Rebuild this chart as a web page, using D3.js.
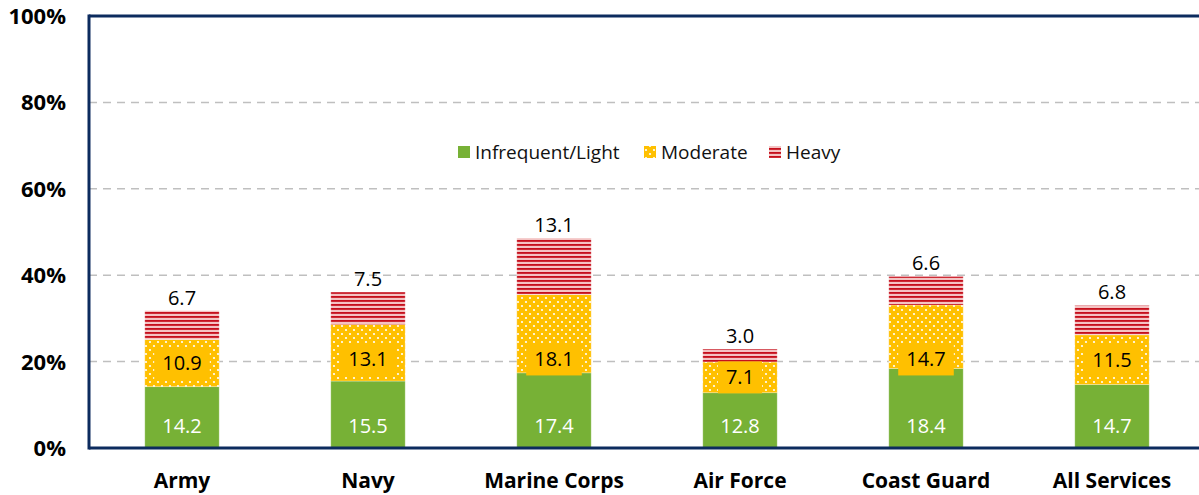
<!DOCTYPE html>
<html>
<head>
<meta charset="utf-8">
<script src="https://cdn.jsdelivr.net/npm/d3@7"></script>
<style>
  body { margin: 0; background: #fff; }
  svg text { font-family: "Open Sans", "Noto Sans", sans-serif; }
  .tick-label { font-weight: bold; font-size: 22px; fill: #000; }
  .cat-label { font-weight: bold; font-size: 21px; fill: #000; }
  .val { font-size: 20px; }
  .leg { font-size: 19px; fill: #111; }
</style>
</head>
<body>
<svg id="chart" width="1199" height="495"></svg>
<script>
// services along the x axis
var services = ["Army", "Navy", "Marine Corps", "Air Force", "Coast Guard", "All Services"];
// percent of members in each drinking level
var light = [14.2, 15.5, 17.4, 12.8, 18.4, 14.7];
var moderate = [10.9, 13.1, 18.1, 7.1, 14.7, 11.5];
var heavy = [6.7, 7.5, 13.1, 3.0, 6.6, 6.8];
var seriesNames = ["Infrequent/Light", "Moderate", "Heavy"];
var yTicks = [0, 20, 40, 60, 80, 100];

var svg = d3.select("#chart");
var pLeft = 89, pTop = 16, pBottom = 448, pRight = 1205;
var navy = "#0c2b5e";

var x = d3.scaleBand().domain(services).range([pLeft, pRight]).paddingInner(0.6).paddingOuter(0.3);
var y = d3.scaleLinear().domain([0, 100]).range([pBottom, pTop]);

// patterns
var defs = svg.append("defs");
var dots = defs.append("pattern").attr("id", "dots")
  .attr("patternUnits", "userSpaceOnUse").attr("width", 8).attr("height", 8);
dots.append("rect").attr("width", 8).attr("height", 8).attr("fill", "#ffc000");
dots.append("circle").attr("cx", 2).attr("cy", 2).attr("r", 1.1).attr("fill", "#fff");
dots.append("circle").attr("cx", 6).attr("cy", 6).attr("r", 1.1).attr("fill", "#fff");

var stripes = defs.append("pattern").attr("id", "stripes")
  .attr("patternUnits", "userSpaceOnUse").attr("width", 8).attr("height", 4);
stripes.append("rect").attr("width", 8).attr("height", 4).attr("fill", "#ee9c9c");
stripes.append("rect").attr("y", 0).attr("width", 8).attr("height", 1.8).attr("fill", "#c50f1c");
stripes.append("rect").attr("y", 2.6).attr("width", 8).attr("height", 0.8).attr("fill", "#fff");

var fills = ["#77b136", "url(#dots)", "url(#stripes)"];

// gridlines
svg.append("g").selectAll("line")
  .data(yTicks.filter(function(d){ return d > 0 && d < 100; }))
  .enter().append("line")
  .attr("x1", pLeft).attr("x2", pRight)
  .attr("y1", function(d){ return y(d); }).attr("y2", function(d){ return y(d); })
  .attr("stroke", "#bfbfbf").attr("stroke-width", 1.5).attr("stroke-dasharray", "8,6");

// stacked bars
var rows = services.map(function(s, i){
  return { name: s, light: light[i], moderate: moderate[i], heavy: heavy[i] };
});
var stack = d3.stack().keys(["light", "moderate", "heavy"]);
var layers = stack(rows);

svg.append("g").selectAll("g")
  .data(layers)
  .enter().append("g")
  .attr("fill", function(d, i){ return fills[i]; })
  .selectAll("rect")
  .data(function(d){ return d; })
  .enter().append("rect")
  .attr("x", function(d){ return x(d.data.name); })
  .attr("width", x.bandwidth())
  .attr("y", function(d){ return y(d[1]); })
  .attr("height", function(d){ return y(d[0]) - y(d[1]); })
  .attr("stroke", "#fff").attr("stroke-opacity", 0.35).attr("stroke-width", 0.8);

// value labels
var lbl = svg.append("g").attr("text-anchor", "middle");
rows.forEach(function(r){
  var cx = x(r.name) + x.bandwidth() / 2;
  // light: white near bar base
  lbl.append("text").attr("class", "val").attr("x", cx).attr("y", y(5) + 7)
    .attr("fill", "#fff").text(r.light.toFixed(1));
  // moderate: black on solid yellow box
  var mid = Math.min(r.light + r.moderate / 2, 20.5);
  var t = lbl.append("text").attr("class", "val").attr("x", cx).attr("y", y(mid) + 7)
    .attr("fill", "#000").text(r.moderate.toFixed(1));
  var bb = t.node().getBBox();
  lbl.insert("rect", function(){ return t.node(); })
    .attr("x", bb.x - 8).attr("y", y(mid) - 16).attr("width", bb.width + 16).attr("height", 32)
    .attr("fill", "#ffc000");
  // heavy: above the bar
  lbl.append("text").attr("class", "val").attr("x", cx)
    .attr("y", y(r.light + r.moderate + r.heavy) - 6)
    .attr("fill", "#000").text(r.heavy.toFixed(1));
});

// frame: left axis, top and bottom lines
svg.append("line").attr("x1", pLeft).attr("x2", pRight).attr("y1", pBottom).attr("y2", pBottom)
  .attr("stroke", navy).attr("stroke-width", 3);
svg.append("line").attr("x1", pLeft).attr("x2", pRight).attr("y1", pTop).attr("y2", pTop)
  .attr("stroke", navy).attr("stroke-width", 3);
svg.append("line").attr("x1", pLeft).attr("x2", pLeft).attr("y1", pTop - 1.5).attr("y2", pBottom + 1.5)
  .attr("stroke", navy).attr("stroke-width", 3);

// y tick labels
svg.append("g").selectAll("text")
  .data(yTicks).enter().append("text")
  .attr("class", "tick-label")
  .attr("x", 66).attr("y", function(d){ return y(d) + 8; })
  .attr("text-anchor", "end")
  .text(function(d){ return d + "%"; });

// category labels
svg.append("g").selectAll("text")
  .data(services).enter().append("text")
  .attr("class", "cat-label")
  .attr("x", function(d){ return x(d) + x.bandwidth() / 2; })
  .attr("y", 488)
  .attr("text-anchor", "middle")
  .text(function(d){ return d; });

// legend
var legX = [458, 644, 769];
var leg = svg.append("g");
seriesNames.forEach(function(n, i){
  leg.append("rect").attr("x", legX[i]).attr("y", 146).attr("width", 12).attr("height", 12)
    .attr("fill", fills[i]);
  leg.append("text").attr("class", "leg").attr("x", legX[i] + 17).attr("y", 159).text(n);
});
</script>
</body>
</html>
